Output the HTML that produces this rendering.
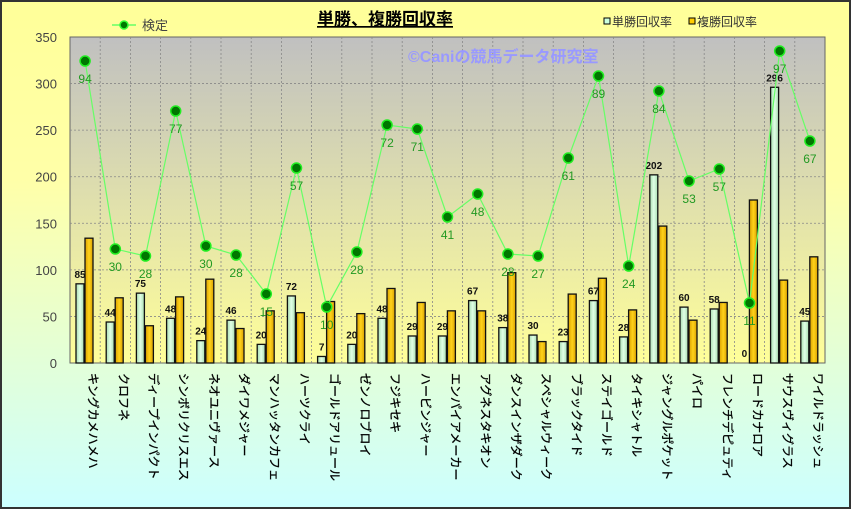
<!DOCTYPE html>
<html><head><meta charset="utf-8"><style>
body{margin:0;width:851px;height:509px;overflow:hidden;font-family:"Liberation Sans","Noto Sans CJK JP",sans-serif}
</style></head><body>
<svg width="851" height="509" xmlns="http://www.w3.org/2000/svg" font-family="Liberation Sans, Noto Sans CJK JP, sans-serif">
<defs>
<linearGradient id="bg" x1="0" y1="0" x2="0" y2="1"><stop offset="0" stop-color="#ffff99"/><stop offset="0.35" stop-color="#ffffa8"/><stop offset="1" stop-color="#ccffff"/></linearGradient>
<linearGradient id="pa" x1="0" y1="0" x2="0" y2="1"><stop offset="0" stop-color="#c0c0c0"/><stop offset="1" stop-color="#ffff99"/></linearGradient>
<linearGradient id="gb" x1="0" y1="0" x2="1" y2="0"><stop offset="0" stop-color="#a8dcb0"/><stop offset="0.5" stop-color="#e0ffe6"/><stop offset="1" stop-color="#a8dcb0"/></linearGradient>
<linearGradient id="ob" x1="0" y1="0" x2="1" y2="0"><stop offset="0" stop-color="#d9a000"/><stop offset="0.5" stop-color="#ffd21a"/><stop offset="1" stop-color="#d9a000"/></linearGradient>
</defs>
<rect x="1" y="1" width="849" height="507" fill="url(#bg)" stroke="#333" stroke-width="2"/>
<rect x="70" y="37" width="755" height="326" fill="url(#pa)" stroke="#666"/>
<g id="grid" stroke="#888" stroke-dasharray="2,2" stroke-width="0.8"></g>
<text x="408" y="62" font-size="16" font-weight="bold" fill="#9999ff">©Caniの競馬データ研究室</text>
<g id="bars"></g>
<g id="line"></g>
<g id="yl" font-size="13" fill="#444" text-anchor="end"></g>
<text x="385" y="25" font-size="17" font-weight="bold" text-anchor="middle" text-decoration="underline">単勝、複勝回収率</text>
<line x1="112" y1="25" x2="136" y2="25" stroke="#66ff66" stroke-width="1.5"/>
<circle cx="124" cy="25" r="4" fill="#007700" stroke="#33ff33" stroke-width="1.5"/>
<text x="142" y="30" font-size="13" fill="#444">検定</text>
<rect x="604" y="18" width="6" height="6" fill="#ccffdd" stroke="#000"/>
<text x="612" y="26" font-size="12" fill="#333">単勝回収率</text>
<rect x="689" y="18" width="6" height="6" fill="#ffcc00" stroke="#000"/>
<text x="697" y="26" font-size="12" fill="#333">複勝回収率</text>
</svg>
<script>
const ns="http://www.w3.org/2000/svg";
function el(p,t,a,txt){const e=document.createElementNS(ns,t);for(const k in a)e.setAttribute(k,a[k]);if(txt!==undefined)e.textContent=txt;p.appendChild(e);return e;}
const names=["キングカメハメハ","クロフネ","ディープインパクト","シンボリクリスエス","ネオユニヴァース","ダイワメジャー","マンハッタンカフェ","ハーツクライ","ゴールドアリュール","ゼンノロブロイ","フジキセキ","ハービンジャー","エンパイアメーカー","アグネスタキオン","ダンスインザダーク","スペシャルウィーク","ブラックタイド","ステイゴールド","タイキシャトル","ジャングルポケット","パイロ","フレンチデピュティ","ロードカナロア","サウスヴィグラス","ワイルドラッシュ"];
const tan=[85,44,75,48,24,46,20,72,7,20,48,29,29,67,38,30,23,67,28,202,60,58,0,296,45];
const fuk=[134,70,40,71,90,37,56,54,66,53,80,65,56,56,97,23,74,91,57,147,46,65,175,89,114];
const my=[61,249,256,111,246,255,294,168,307,252,125,129,217,194,254,256,158,76,266,91,181,169,303,51,141];
const lab=[94,30,28,77,30,28,15,57,10,28,72,71,41,48,28,27,61,89,24,84,53,57,11,97,67];
const L=70,R=825,T=37,B=363,w=(R-L)/25,s=(B-T)/350;
const svg=document.querySelector("svg");
const g=document.getElementById("grid"),bars=document.getElementById("bars"),line=document.getElementById("line"),yl=document.getElementById("yl");
for(let i=1;i<25;i++){const x=L+i*w;el(g,"line",{x1:x,y1:T,x2:x,y2:B});}
for(let v=0;v<=350;v+=50){const y=B-v*s;if(v>0&&v<350)el(g,"line",{x1:L,y1:y,x2:R,y2:y});el(yl,"text",{x:57,y:y+5},v);}
for(let i=0;i<25;i++){const x0=L+i*w;
 const h1=tan[i]*s,h2=fuk[i]*s;
 el(bars,"rect",{x:x0+6,y:B-h1,width:8,height:h1,fill:"url(#gb)",stroke:"#111","stroke-width":1.3});
 el(bars,"rect",{x:x0+15,y:B-h2,width:8,height:h2,fill:"url(#ob)",stroke:"#111","stroke-width":1.3});
 el(bars,"text",{x:x0+10,y:B-h1-6,"font-size":10,"font-weight":"bold","text-anchor":"middle",fill:"#111"},tan[i]);
 el(svg,"text",{x:0,y:0,"font-size":12,fill:"#000",stroke:"#000","stroke-width":0.3,transform:`translate(${x0+w/2+4},${B+10}) rotate(90)`},names[i]);
}
let pts=my.map((y,i)=>(L+(i+0.5)*w)+","+y).join(" ");
el(line,"polyline",{points:pts,fill:"none",stroke:"#66ff66","stroke-width":1.2});
my.forEach((y,i)=>{const x=L+(i+0.5)*w;el(line,"circle",{cx:x,cy:y,r:5,fill:"#007700",stroke:"#22ee22","stroke-width":1.5});
 el(line,"text",{x:x,y:y+22,"font-size":12,"text-anchor":"middle",fill:"#229922"},lab[i]);});
</script>
</body></html>
